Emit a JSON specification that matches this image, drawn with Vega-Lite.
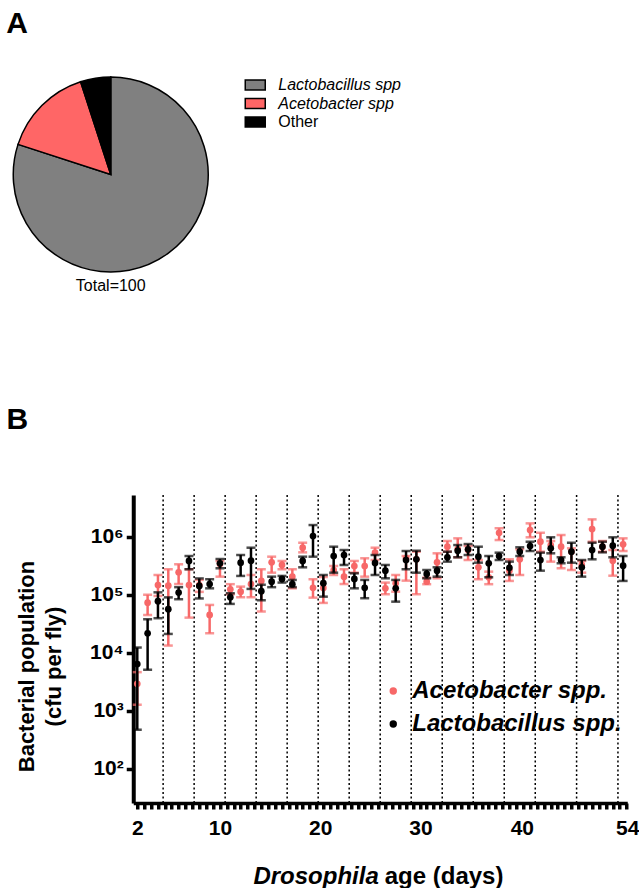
{
  "$schema": "https://vega.github.io/schema/vega-lite/v6.json",
  "background": "white",
  "padding": {"left": 6.25, "top": 9, "right": 0, "bottom": 0},
  "title": {"text": "A", "anchor": "start", "frame": "bounds", "fontSize": 30, "fontWeight": "bold", "color": "black", "baseline": "alphabetic", "offset": 11},
  "resolve": {"scale": {"color": "independent"}, "legend": {"color": "independent"}},
  "datasets": {
    "pie": [
      {"cat": "Lactobacillus spp", "n": 80, "k": 1},
      {"cat": "Acetobacter spp", "n": 15, "k": 2},
      {"cat": "Other", "n": 5, "k": 3}
    ],
    "blank": [{"d": 0}],
    "sep": [
      {"p": 2.5}, {"p": 5.5}, {"p": 8.5}, {"p": 11.5}, {"p": 14.5}, {"p": 17.5}, {"p": 20.5},
      {"p": 23.5}, {"p": 26.5}, {"p": 29.5}, {"p": 32.5}, {"p": 35.5}, {"p": 38.5}, {"p": 42.5}, {"p": 46.5}
    ],
    "b": [
      {"sp": "Acetobacter spp.", "i": 0, "v": 2920, "lo": 1270, "hi": 4630},
      {"sp": "Acetobacter spp.", "i": 1, "v": 73100, "lo": 44900, "hi": 100000},
      {"sp": "Acetobacter spp.", "i": 2, "v": 147000, "lo": 95300, "hi": 219000},
      {"sp": "Acetobacter spp.", "i": 3, "v": 143000, "lo": 13300, "hi": 275000},
      {"sp": "Acetobacter spp.", "i": 4, "v": 244000, "lo": 153000, "hi": 335000},
      {"sp": "Acetobacter spp.", "i": 5, "v": 147000, "lo": 40300, "hi": 275000},
      {"sp": "Acetobacter spp.", "i": 6, "v": 147000, "lo": 112000, "hi": 180000},
      {"sp": "Acetobacter spp.", "i": 7, "v": 44900, "lo": 21700, "hi": 66700},
      {"sp": "Acetobacter spp.", "i": 8, "v": 339000, "lo": 205000, "hi": 382000},
      {"sp": "Acetobacter spp.", "i": 9, "v": 124000, "lo": 102000, "hi": 152000},
      {"sp": "Acetobacter spp.", "i": 10, "v": 113000, "lo": 90600, "hi": 138000},
      {"sp": "Acetobacter spp.", "i": 11, "v": 153000, "lo": 90600, "hi": 219000},
      {"sp": "Acetobacter spp.", "i": 12, "v": 173000, "lo": 51200, "hi": 275000},
      {"sp": "Acetobacter spp.", "i": 13, "v": 362000, "lo": 240000, "hi": 453000},
      {"sp": "Acetobacter spp.", "i": 14, "v": 326000, "lo": 275000, "hi": 382000},
      {"sp": "Acetobacter spp.", "i": 15, "v": 205000, "lo": 129000, "hi": 275000},
      {"sp": "Acetobacter spp.", "i": 16, "v": 647000, "lo": 538000, "hi": 788000},
      {"sp": "Acetobacter spp.", "i": 17, "v": 132000, "lo": 89100, "hi": 185000},
      {"sp": "Acetobacter spp.", "i": 18, "v": 131000, "lo": 72300, "hi": 202000},
      {"sp": "Acetobacter spp.", "i": 19, "v": 267000, "lo": 219000, "hi": 313000},
      {"sp": "Acetobacter spp.", "i": 20, "v": 205000, "lo": 153000, "hi": 275000},
      {"sp": "Acetobacter spp.", "i": 21, "v": 313000, "lo": 240000, "hi": 382000},
      {"sp": "Acetobacter spp.", "i": 22, "v": 313000, "lo": 205000, "hi": 425000},
      {"sp": "Acetobacter spp.", "i": 23, "v": 535000, "lo": 397000, "hi": 647000},
      {"sp": "Acetobacter spp.", "i": 24, "v": 129000, "lo": 102000, "hi": 162000},
      {"sp": "Acetobacter spp.", "i": 25, "v": 158000, "lo": 113000, "hi": 219000},
      {"sp": "Acetobacter spp.", "i": 26, "v": 425000, "lo": 175000, "hi": 465000},
      {"sp": "Acetobacter spp.", "i": 27, "v": 408000, "lo": 102000, "hi": 552000},
      {"sp": "Acetobacter spp.", "i": 28, "v": 168000, "lo": 152000, "hi": 197000},
      {"sp": "Acetobacter spp.", "i": 29, "v": 362000, "lo": 192000, "hi": 518000},
      {"sp": "Acetobacter spp.", "i": 30, "v": 673000, "lo": 552000, "hi": 844000},
      {"sp": "Acetobacter spp.", "i": 31, "v": 614000, "lo": 442000, "hi": 938000},
      {"sp": "Acetobacter spp.", "i": 32, "v": 590000, "lo": 397000, "hi": 692000},
      {"sp": "Acetobacter spp.", "i": 33, "v": 297000, "lo": 185000, "hi": 397000},
      {"sp": "Acetobacter spp.", "i": 34, "v": 200000, "lo": 152000, "hi": 250000},
      {"sp": "Acetobacter spp.", "i": 35, "v": 1170000, "lo": 877000, "hi": 1400000},
      {"sp": "Acetobacter spp.", "i": 36, "v": 260000, "lo": 173000, "hi": 408000},
      {"sp": "Acetobacter spp.", "i": 37, "v": 408000, "lo": 219000, "hi": 607000},
      {"sp": "Acetobacter spp.", "i": 38, "v": 1300000, "lo": 977000, "hi": 1700000},
      {"sp": "Acetobacter spp.", "i": 39, "v": 820000, "lo": 552000, "hi": 1170000},
      {"sp": "Acetobacter spp.", "i": 40, "v": 719000, "lo": 372000, "hi": 844000},
      {"sp": "Acetobacter spp.", "i": 41, "v": 673000, "lo": 286000, "hi": 1070000},
      {"sp": "Acetobacter spp.", "i": 42, "v": 552000, "lo": 267000, "hi": 631000},
      {"sp": "Acetobacter spp.", "i": 43, "v": 326000, "lo": 240000, "hi": 382000},
      {"sp": "Acetobacter spp.", "i": 44, "v": 1360000, "lo": 820000, "hi": 1990000},
      {"sp": "Acetobacter spp.", "i": 45, "v": 673000, "lo": 552000, "hi": 844000},
      {"sp": "Acetobacter spp.", "i": 46, "v": 386000, "lo": 213000, "hi": 590000},
      {"sp": "Acetobacter spp.", "i": 47, "v": 740000, "lo": 567000, "hi": 938000},
      {"sp": "Lactobacillus spp.", "i": 0, "v": 6400, "lo": 471, "hi": 12300},
      {"sp": "Lactobacillus spp.", "i": 1, "v": 21700, "lo": 5080, "hi": 37900},
      {"sp": "Lactobacillus spp.", "i": 2, "v": 77300, "lo": 39400, "hi": 110000},
      {"sp": "Lactobacillus spp.", "i": 3, "v": 56300, "lo": 21100, "hi": 90000},
      {"sp": "Lactobacillus spp.", "i": 4, "v": 109000, "lo": 83700, "hi": 135000},
      {"sp": "Lactobacillus spp.", "i": 5, "v": 382000, "lo": 275000, "hi": 465000},
      {"sp": "Lactobacillus spp.", "i": 6, "v": 142000, "lo": 86300, "hi": 191000},
      {"sp": "Lactobacillus spp.", "i": 7, "v": 153000, "lo": 129000, "hi": 185000},
      {"sp": "Lactobacillus spp.", "i": 8, "v": 349000, "lo": 286000, "hi": 413000},
      {"sp": "Lactobacillus spp.", "i": 9, "v": 90600, "lo": 69500, "hi": 106000},
      {"sp": "Lactobacillus spp.", "i": 10, "v": 357000, "lo": 211000, "hi": 484000},
      {"sp": "Lactobacillus spp.", "i": 11, "v": 386000, "lo": 126000, "hi": 647000},
      {"sp": "Lactobacillus spp.", "i": 12, "v": 115000, "lo": 80400, "hi": 149000},
      {"sp": "Lactobacillus spp.", "i": 13, "v": 168000, "lo": 135000, "hi": 205000},
      {"sp": "Lactobacillus spp.", "i": 14, "v": 187000, "lo": 162000, "hi": 211000},
      {"sp": "Lactobacillus spp.", "i": 15, "v": 152000, "lo": 135000, "hi": 180000},
      {"sp": "Lactobacillus spp.", "i": 16, "v": 382000, "lo": 297000, "hi": 453000},
      {"sp": "Lactobacillus spp.", "i": 17, "v": 1030000, "lo": 453000, "hi": 1590000},
      {"sp": "Lactobacillus spp.", "i": 18, "v": 158000, "lo": 92700, "hi": 219000},
      {"sp": "Lactobacillus spp.", "i": 19, "v": 465000, "lo": 240000, "hi": 673000},
      {"sp": "Lactobacillus spp.", "i": 20, "v": 484000, "lo": 326000, "hi": 590000},
      {"sp": "Lactobacillus spp.", "i": 21, "v": 187000, "lo": 129000, "hi": 234000},
      {"sp": "Lactobacillus spp.", "i": 22, "v": 132000, "lo": 87100, "hi": 180000},
      {"sp": "Lactobacillus spp.", "i": 23, "v": 353000, "lo": 219000, "hi": 484000},
      {"sp": "Lactobacillus spp.", "i": 24, "v": 260000, "lo": 192000, "hi": 326000},
      {"sp": "Lactobacillus spp.", "i": 25, "v": 129000, "lo": 76000, "hi": 180000},
      {"sp": "Lactobacillus spp.", "i": 26, "v": 397000, "lo": 275000, "hi": 567000},
      {"sp": "Lactobacillus spp.", "i": 27, "v": 408000, "lo": 240000, "hi": 574000},
      {"sp": "Lactobacillus spp.", "i": 28, "v": 228000, "lo": 192000, "hi": 267000},
      {"sp": "Lactobacillus spp.", "i": 29, "v": 260000, "lo": 205000, "hi": 297000},
      {"sp": "Lactobacillus spp.", "i": 30, "v": 442000, "lo": 372000, "hi": 552000},
      {"sp": "Lactobacillus spp.", "i": 31, "v": 574000, "lo": 442000, "hi": 719000},
      {"sp": "Lactobacillus spp.", "i": 32, "v": 607000, "lo": 484000, "hi": 748000},
      {"sp": "Lactobacillus spp.", "i": 33, "v": 453000, "lo": 357000, "hi": 673000},
      {"sp": "Lactobacillus spp.", "i": 34, "v": 349000, "lo": 200000, "hi": 465000},
      {"sp": "Lactobacillus spp.", "i": 35, "v": 465000, "lo": 397000, "hi": 531000},
      {"sp": "Lactobacillus spp.", "i": 36, "v": 292000, "lo": 219000, "hi": 372000},
      {"sp": "Lactobacillus spp.", "i": 37, "v": 552000, "lo": 465000, "hi": 657000},
      {"sp": "Lactobacillus spp.", "i": 38, "v": 692000, "lo": 567000, "hi": 820000},
      {"sp": "Lactobacillus spp.", "i": 39, "v": 397000, "lo": 260000, "hi": 531000},
      {"sp": "Lactobacillus spp.", "i": 40, "v": 631000, "lo": 518000, "hi": 977000},
      {"sp": "Lactobacillus spp.", "i": 41, "v": 397000, "lo": 349000, "hi": 442000},
      {"sp": "Lactobacillus spp.", "i": 42, "v": 552000, "lo": 357000, "hi": 788000},
      {"sp": "Lactobacillus spp.", "i": 43, "v": 297000, "lo": 205000, "hi": 397000},
      {"sp": "Lactobacillus spp.", "i": 44, "v": 590000, "lo": 408000, "hi": 788000},
      {"sp": "Lactobacillus spp.", "i": 45, "v": 673000, "lo": 538000, "hi": 820000},
      {"sp": "Lactobacillus spp.", "i": 46, "v": 700000, "lo": 442000, "hi": 977000},
      {"sp": "Lactobacillus spp.", "i": 47, "v": 317000, "lo": 173000, "hi": 465000}
    ]
  },
  "columns": 2,
  "align": {"row": "each", "column": "none"},
  "spacing": {"row": 111, "column": -395},
  "concat": [
    {
      "width": 195,
      "height": 195,
      "title": {"text": "Total=100", "orient": "bottom", "frame": "group", "anchor": "middle", "fontSize": 16, "fontWeight": "normal", "baseline": "top", "offset": 3, "color": "black"},
      "data": {"name": "pie"},
      "mark": {"type": "arc", "stroke": "black", "strokeWidth": 1.5},
      "encoding": {
        "theta": {"field": "n", "type": "quantitative", "stack": true},
        "order": {"field": "k", "type": "quantitative"},
        "color": {
          "field": "cat",
          "type": "nominal",
          "scale": {"domain": ["Lactobacillus spp", "Acetobacter spp", "Other"], "range": ["#808080", "#FF6666", "#000000"]},
          "legend": {
            "orient": "none",
            "legendX": 234,
            "legendY": 0,
            "title": null,
            "symbolType": "M-2,-1H2V1H-2Z",
            "symbolSize": 100,
            "symbolStrokeColor": "black",
            "symbolStrokeWidth": 1.5,
            "symbolOpacity": 1,
            "labelFontSize": 16,
            "labelColor": "black",
            "labelOffset": 15,
            "labelLimit": 300,
            "rowPadding": 2.5,
            "encode": {"labels": {"update": {"fontStyle": {"signal": "datum.value === 'Other' ? 'normal' : 'italic'"}}}}
          }
        }
      }
    },
    {
      "width": 1,
      "height": 1,
      "data": {"name": "blank"},
      "mark": {"type": "point", "size": 0, "opacity": 0}
    },
    {
      "width": 1,
      "height": 1,
      "data": {"name": "blank"},
      "mark": {"type": "point", "size": 0, "opacity": 0}
    },
    {
      "width": 494,
      "height": 308,
      "title": {"text": "B", "anchor": "start", "frame": "bounds", "fontSize": 30, "fontWeight": "bold", "color": "black", "baseline": "alphabetic", "offset": 35, "dx": -9},
      "resolve": {"axis": {"x": "independent"}},
      "layer": [
        {
          "data": {"name": "sep"},
          "mark": {"type": "rule", "strokeDash": [2, 2.5], "strokeWidth": 1.5, "color": "black"},
          "encoding": {
            "x": {
              "field": "p",
              "type": "quantitative",
              "scale": {"domain": [-0.39, 47.4], "nice": false, "zero": false},
              "axis": {
                "orient": "bottom",
                "values": [0, 8, 17.7, 27.4, 37.2, 47.4],
                "labelExpr": "datum.value == 0 ? '2' : datum.value == 8 ? '10' : datum.value == 17.7 ? '20' : datum.value == 27.4 ? '30' : datum.value == 37.2 ? '40' : '54'",
                "ticks": false,
                "domain": false,
                "grid": false,
                "labelFontSize": 21,
                "labelFontWeight": "bold",
                "labelColor": "black",
                "labelPadding": 14,
                "labelOverlap": false,
                "labelBound": false,
                "labelFlush": false,
                "title": "Drosophila",
                "titleFontStyle": "italic",
                "titleFontSize": 24,
                "titleFontWeight": "bold",
                "titleColor": "black",
                "titleX": 245,
                "titleY": 80,
                "titleAlign": "right",
                "titleBaseline": "alphabetic"
              }
            }
          }
        },
        {
          "data": {"name": "b"},
          "transform": [{"filter": "datum.sp === 'Acetobacter spp.'"}],
          "mark": {"type": "errorbar", "ticks": true, "size": 9, "thickness": 2.5, "color": "#F76868"},
          "encoding": {
            "x": {
              "field": "i",
              "type": "quantitative",
              "scale": {"domain": [-0.39, 47.4], "nice": false, "zero": false},
              "axis": {
                "orient": "bottom",
                "values": [0, 0.667, 1.333, 2, 2.667, 3.333, 4, 4.667, 5.333, 6, 6.667, 7.333, 8, 8.667, 9.333, 10, 10.667, 11.333, 12, 12.667, 13.333, 14, 14.667, 15.333, 16, 16.667, 17.333, 18, 18.667, 19.333, 20, 20.667, 21.333, 22, 22.667, 23.333, 24, 24.667, 25.333, 26, 26.667, 27.333, 28, 28.667, 29.333, 30, 30.667, 31.333, 32, 32.667, 33.333, 34, 34.667, 35.333, 36, 36.667, 37.333, 38, 38.667, 39.333, 40, 40.667, 41.333, 42, 42.667, 43.333, 44, 44.667, 45.333, 46, 46.667, 47.333],
                "labels": false,
                "ticks": true,
                "tickSize": 6,
                "tickWidth": 3.5,
                "tickColor": "black",
                "domain": true,
                "domainWidth": 3.5,
                "domainColor": "black",
                "grid": false,
                "title": "age (days)",
                "titleFontSize": 24,
                "titleFontWeight": "bold",
                "titleColor": "black",
                "titleX": 251,
                "titleY": 80,
                "titleAlign": "left",
                "titleBaseline": "alphabetic"
              }
            },
            "y": {
              "field": "lo",
              "type": "quantitative",
              "title": ["Bacterial population", "(cfu per fly)"],
              "scale": {"type": "log", "domain": [25.7, 5240000], "nice": false},
              "axis": {
                "values": [100, 1000, 10000, 100000, 1000000],
                "labelExpr": "'10' + ['²','³','⁴','⁵','⁶'][round(log(datum.value)/LN10) - 2]",
                "grid": false,
                "tickSize": 7,
                "tickWidth": 3.5,
                "tickColor": "black",
                "domainWidth": 4,
                "domainColor": "black",
                "labelFontSize": 21,
                "labelFontWeight": "bold",
                "labelColor": "black",
                "labelPadding": 3,
                "titleFontSize": 22,
                "titleFontWeight": "bold",
                "titleColor": "black",
                "titleLineHeight": 27,
                "titlePadding": 24,
                "titleY": 171
              }
            },
            "y2": {"field": "hi"}
          }
        },
        {
          "data": {"name": "b"},
          "transform": [{"filter": "datum.sp === 'Acetobacter spp.'"}],
          "mark": {"type": "circle", "size": 45, "opacity": 1},
          "encoding": {
            "x": {"field": "i", "type": "quantitative", "scale": {"domain": [-0.39, 47.4], "nice": false, "zero": false}, "axis": null},
            "y": {"field": "v", "type": "quantitative", "title": ["Bacterial population", "(cfu per fly)"], "scale": {"type": "log", "domain": [25.7, 5240000], "nice": false}},
            "color": {
              "field": "sp",
              "type": "nominal",
              "scale": {"domain": ["Acetobacter spp.", "Lactobacillus spp."], "range": ["#F76868", "#000000"]},
              "legend": {
                "orient": "none",
                "legendX": 248,
                "legendY": 184,
                "title": null,
                "symbolType": "circle",
                "symbolSize": 55,
                "symbolOpacity": 1,
                "labelFontSize": 24,
                "labelFontWeight": "bold",
                "labelFontStyle": "italic",
                "labelColor": "black",
                "labelOffset": 7,
                "labelLimit": 400,
                "rowPadding": 9
              }
            }
          }
        },
        {
          "data": {"name": "b"},
          "transform": [{"filter": "datum.sp === 'Lactobacillus spp.'"}],
          "mark": {"type": "errorbar", "ticks": true, "size": 9, "thickness": 2.5, "color": "#000000"},
          "encoding": {
            "x": {"field": "i", "type": "quantitative", "scale": {"domain": [-0.39, 47.4], "nice": false, "zero": false}, "axis": null},
            "y": {"field": "lo", "type": "quantitative", "title": ["Bacterial population", "(cfu per fly)"], "scale": {"type": "log", "domain": [25.7, 5240000], "nice": false}},
            "y2": {"field": "hi"}
          }
        },
        {
          "data": {"name": "b"},
          "transform": [{"filter": "datum.sp === 'Lactobacillus spp.'"}],
          "mark": {"type": "circle", "size": 45, "opacity": 1},
          "encoding": {
            "x": {"field": "i", "type": "quantitative", "scale": {"domain": [-0.39, 47.4], "nice": false, "zero": false}, "axis": null},
            "y": {"field": "v", "type": "quantitative", "title": ["Bacterial population", "(cfu per fly)"], "scale": {"type": "log", "domain": [25.7, 5240000], "nice": false}},
            "color": {"field": "sp", "type": "nominal"}
          }
        }
      ]
    }
  ],
  "config": {
    "font": "Liberation Sans",
    "view": {"stroke": null},
    "title": {"color": "black"}
  }
}
